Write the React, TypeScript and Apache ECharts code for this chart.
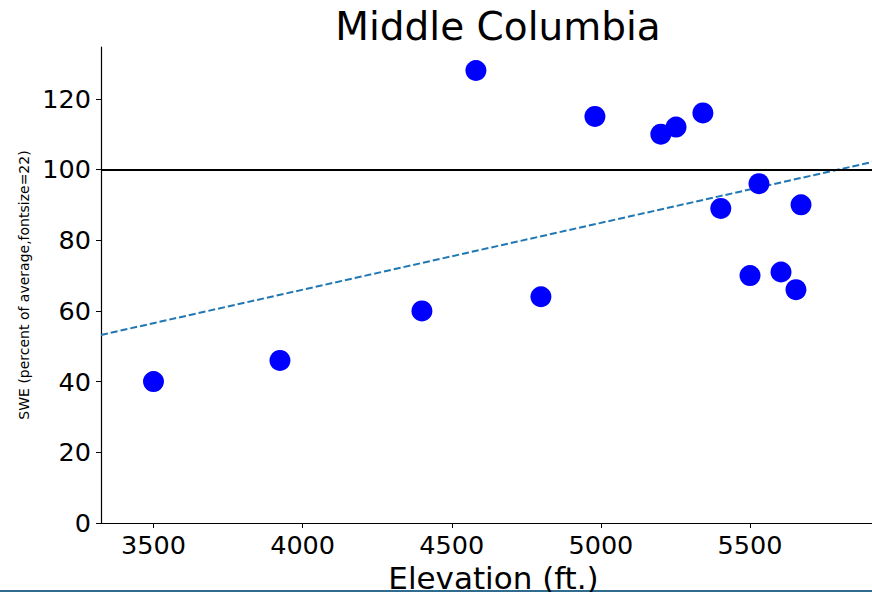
import React, { useEffect, useRef } from "react";
import * as echarts from "echarts";

const elevation = [3500, 3924, 4400, 4581, 4799, 4980, 5201, 5252, 5342, 5402, 5500, 5530, 5604, 5654, 5671];
const swe = [40, 46, 60, 128, 64, 115, 110, 112, 116, 89, 70, 96, 71, 66, 90];
const trendX = [3324, 5909];
const trendY = [53.2, 102.1];
const referenceLevel = 100;
const xTicks = [3500, 4000, 4500, 5000, 5500];

const FONT = "DejaVu Sans";

export default function App() {
  const ref = useRef<HTMLDivElement>(null);
  useEffect(() => {
    if (!ref.current) return;
    const chart = echarts.init(ref.current, null, { renderer: "svg" });
    const points = elevation.map((x, i) => [x, swe[i]]);
    chart.setOption({
      animation: false,
      backgroundColor: "#ffffff",
      textStyle: { fontFamily: FONT },
      grid: { left: 101, right: 0, top: 47, bottom: 69, containLabel: false, outerBoundsMode: "none" },
      xAxis: [
        {
          type: "value",
          min: trendX[0],
          max: trendX[1],
          axisLine: { show: true, onZero: false, lineStyle: { color: "#000", width: 1.2 } },
          axisTick: { show: true, length: 5, lineStyle: { color: "#000", width: 1 }, customValues: xTicks },
          axisLabel: {
            color: "#000",
            fontSize: 25.5,
            fontFamily: FONT,
            margin: 9,
            customValues: xTicks,
            formatter: (v: number) => String(v),
          },
          splitLine: { show: false },
          name: "Elevation (ft.)",
          nameLocation: "middle",
          nameGap: 36,
          nameTextStyle: { color: "#000", fontSize: 31, fontFamily: FONT, padding: [0, 0, 0, 14] },
        },
        {
          type: "value",
          position: "top",
          min: trendX[0],
          max: trendX[1],
          axisLine: { show: true, lineStyle: { color: "#000", width: 1.2 } },
          axisTick: { show: false },
          axisLabel: { show: false },
          splitLine: { show: false },
        },
      ],
      yAxis: {
        type: "value",
        min: 0,
        max: 134.65,
        interval: 20,
        axisLine: { show: true, onZero: false, lineStyle: { color: "#000", width: 1.2 } },
        axisTick: { show: true, length: 5, lineStyle: { color: "#000", width: 1 } },
        axisLabel: {
          color: "#000",
          fontSize: 25.5,
          fontFamily: FONT,
          margin: 10,
          showMaxLabel: false,
        },
        splitLine: { show: false },
        name: "SWE (percent of average,fontsize=22)",
        nameLocation: "middle",
        nameGap: 62,
        nameTextStyle: { color: "#000", fontSize: 14, fontFamily: FONT },
      },
      title: {
        text: "Middle Columbia",
        left: 493,
        top: 2,
        textAlign: "center",
        textStyle: { color: "#000", fontSize: 39, fontWeight: "normal", fontFamily: FONT },
      },
      series: [
        {
          type: "line",
          data: [
            [trendX[0], trendY[0]],
            [trendX[1], trendY[1]],
          ],
          symbol: "none",
          lineStyle: { color: "#1f77b4", width: 2, type: [7, 3] },
          z: 2,
          silent: true,
          markLine: {
            silent: true,
            symbol: "none",
            label: { show: false },
            lineStyle: { color: "#000", width: 2, type: "solid" },
            data: [{ yAxis: referenceLevel }],
          },
        },
        {
          type: "scatter",
          data: points,
          symbol: "circle",
          symbolSize: 21,
          itemStyle: { color: "#0000ff", opacity: 1 },
          z: 3,
        },
      ],
      graphic: [
        {
          type: "rect",
          left: 0,
          bottom: 0,
          shape: { width: 872, height: 2 },
          style: { fill: "#2f6c8f" },
        },
      ],
    });
    return () => chart.dispose();
  }, []);
  return (
    <div
      ref={ref}
      style={{ position: "absolute", left: 0, top: 0, width: 872, height: 592 }}
    />
  );
}
